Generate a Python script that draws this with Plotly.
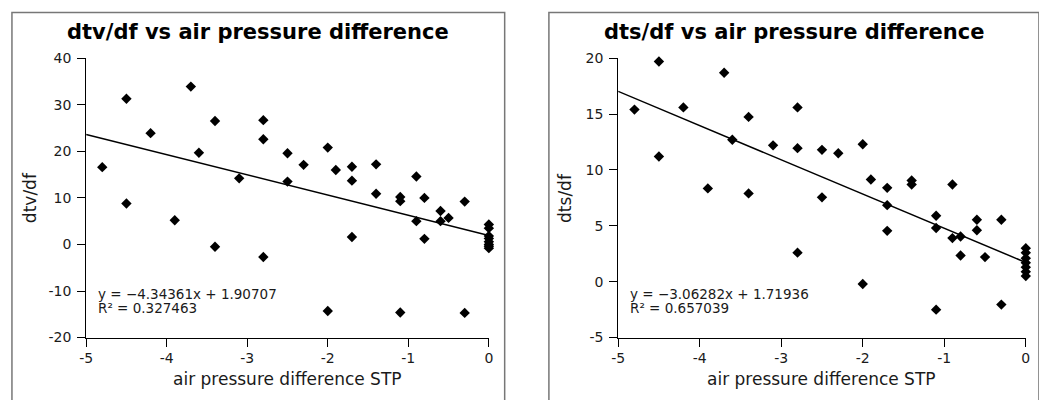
import plotly.graph_objects as go

W, H = 1039, 400

# ---- data: dtv/df ----
x_tv = [-4.8, -4.5, -4.5, -4.2, -3.9, -3.7, -3.6, -3.4, -3.4, -3.1,
        -2.8, -2.8, -2.8, -2.5, -2.5, -2.3, -2.0, -2.0, -1.9, -1.7,
        -1.7, -1.7, -1.4, -1.4, -1.1, -1.1, -1.1, -0.9, -0.9, -0.8,
        -0.8, -0.6, -0.6, -0.5, -0.3, -0.3,
        0, 0, 0, 0, 0, 0, 0, 0]
y_tv = [16.6, 31.3, 8.8, 23.9, 5.2, 33.9, 19.7, 26.5, -0.5, 14.2,
        26.7, 22.6, -2.7, 19.6, 13.5, 17.1, 20.8, -14.3, 16.0, 16.7,
        13.7, 1.6, 17.2, 10.9, 10.2, 9.3, -14.6, 14.6, 5.0, 10.0,
        1.2, 7.2, 5.0, 5.7, 9.2, -14.7,
        4.3, 3.5, 1.8, 1.3, 0.6, 0.0, -0.4, -0.8]
fit_tv = (-4.34361, 1.90707)
r2_tv = 0.327463

# ---- data: dts/df ----
x_ts = [-4.8, -4.5, -4.5, -4.2, -3.9, -3.7, -3.6, -3.4, -3.4, -3.1,
        -2.8, -2.8, -2.8, -2.5, -2.5, -2.3, -2.0, -2.0, -1.9, -1.7,
        -1.7, -1.7, -1.4, -1.4, -1.1, -1.1, -1.1, -0.9, -0.9, -0.8,
        -0.8, -0.6, -0.6, -0.5, -0.3, -0.3,
        0, 0, 0, 0, 0, 0, 0]
y_ts = [15.4, 19.7, 11.2, 15.6, 8.35, 18.7, 12.7, 14.75, 7.9, 12.2,
        15.6, 11.95, 2.6, 11.8, 7.55, 11.5, 12.3, -0.2, 9.15, 8.4,
        6.85, 4.55, 9.05, 8.7, 5.9, 4.8, -2.5, 8.7, 3.9, 4.05,
        2.35, 5.55, 4.6, 2.2, 5.55, -2.05,
        3.0, 2.6, 2.1, 1.7, 1.3, 0.9, 0.5]
fit_ts = (-3.06282, 1.71936)
r2_ts = 0.657039

x_ticks = [-5, -4, -3, -2, -1, 0]
x_ticktext = ["-5", "-4", "-3", "-2", "-1", "0"]
y_ticks_tv = [-20, -10, 0, 10, 20, 30, 40]
y_ticktext_tv = ["-20", "-10", "0", "10", "20", "30", "40"]
y_ticks_ts = [-5, 0, 5, 10, 15, 20]
y_ticktext_ts = ["-5", "0", "5", "10", "15", "20"]

titles = ["dtv/df vs air pressure difference", "dts/df vs air pressure difference"]
y_titles = ["dtv/df", "dts/df"]
x_title = "air pressure difference STP"

FONT = "DejaVu Sans"
TXT = "#1a1a1a"

def px(v):
    return v / W

def py(v):
    return 1 - v / H

fig = go.Figure()

# plot areas (pixels)
areas = [
    dict(x0=80, x1=487, y0=52.3, y1=343.3, panel=(5, 503)),
    dict(x0=617.7, x1=1029.7, y0=52.3, y1=343.3, panel=(547.7, 1043)),
]

datasets = [(x_tv, y_tv, fit_tv, r2_tv, [-20, 40], y_ticks_tv, y_ticktext_tv),
            (x_ts, y_ts, fit_ts, r2_ts, [-5, 20], y_ticks_ts, y_ticktext_ts)]

annotations = []
shapes = []
for i, (xs, ys, fit, r2, yr, yt, ytt) in enumerate(datasets):
    a = areas[i]
    xa = "x" if i == 0 else "x2"
    ya = "y" if i == 0 else "y2"
    fig.add_trace(go.Scatter(
        x=xs, y=ys, mode="markers", xaxis=xa, yaxis=ya,
        marker=dict(symbol="diamond", size=8, color="black"),
        showlegend=False, cliponaxis=False))
    lx = [-5, 0]
    ly = [fit[0] * v + fit[1] for v in lx]
    fig.add_trace(go.Scatter(
        x=lx, y=ly, mode="lines", xaxis=xa, yaxis=ya,
        line=dict(color="black", width=1.5), showlegend=False))
    ax_common = dict(showline=True, linecolor="black", linewidth=1,
                     ticks="outside", ticklen=8, tickcolor="black", tickwidth=1,
                     showgrid=False, zeroline=False,
                     tickfont=dict(family=FONT, size=14, color=TXT))
    xkey = "xaxis" if i == 0 else "xaxis2"
    ykey = "yaxis" if i == 0 else "yaxis2"
    fig.update_layout(**{
        xkey: dict(domain=[px(a["x0"]), px(a["x1"])], range=[-5, 0],
                   tickvals=x_ticks, ticktext=x_ticktext,
                   anchor=ya, **ax_common),
        ykey: dict(domain=[py(a["y1"]), py(a["y0"])], range=yr,
                   tickvals=yt, ticktext=ytt, ticklabelstandoff=3,
                   anchor=xa, **ax_common),
    })
    pc = (a["panel"][0] + a["panel"][1]) / 2
    cx = (a["x0"] + a["x1"]) / 2
    cy = (a["y0"] + a["y1"]) / 2
    annotations.append(dict(text="<b>%s</b>" % titles[i], xref="paper", yref="paper",
                            x=px(pc), y=py(25), xanchor="center", yanchor="middle",
                            showarrow=False, font=dict(family=FONT, size=21, color="black")))
    annotations.append(dict(text=x_title, xref="paper", yref="paper",
                            x=px(cx), y=py(386.5), xanchor="center", yanchor="middle",
                            showarrow=False, font=dict(family=FONT, size=17, color=TXT)))
    annotations.append(dict(text=y_titles[i], xref="paper", yref="paper",
                            x=px(23.5 if i == 0 else 564), y=py(cy), textangle=-90,
                            xanchor="center", yanchor="middle",
                            showarrow=False, font=dict(family=FONT, size=17, color=TXT)))
    sign = "\u2212" if fit[0] < 0 else "+"
    eq = "y = %s%gx + %g" % (sign, abs(fit[0]), fit[1])
    rt = "R\u00b2 = %g" % r2
    ex = a["x0"] + 10
    annotations.append(dict(text=eq, xref="paper", yref="paper", x=px(ex), y=py(298),
                            xanchor="left", yanchor="middle", showarrow=False,
                            font=dict(family=FONT, size=13.5, color=TXT)))
    annotations.append(dict(text=rt, xref="paper", yref="paper", x=px(ex), y=py(312.7),
                            xanchor="left", yanchor="middle", showarrow=False,
                            font=dict(family=FONT, size=13.5, color=TXT)))
    shapes.append(dict(type="rect", xref="paper", yref="paper",
                       x0=px(a["panel"][0]), x1=px(a["panel"][1]),
                       y0=-0.05, y1=py(4.7),
                       line=dict(color="#777777", width=1.5), fillcolor="rgba(0,0,0,0)"))

fig.update_layout(width=W, height=H, margin=dict(l=0, r=0, t=0, b=0),
                  paper_bgcolor="white", plot_bgcolor="white",
                  annotations=annotations, shapes=shapes,
                  font=dict(family=FONT))

fig.write_html("out.html")
